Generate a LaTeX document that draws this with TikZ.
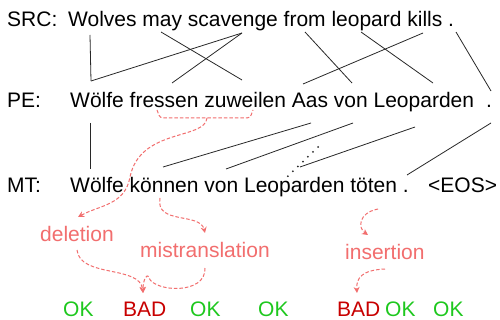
\documentclass[tikz,border=0pt]{standalone}
\usepackage{fontspec}
\setmainfont{Liberation Sans}
\usetikzlibrary{arrows.meta}
\definecolor{linkgray}{RGB}{40,40,40}
\definecolor{errpink}{RGB}{242,110,110}
\definecolor{okgreen}{RGB}{30,200,30}
\definecolor{badred}{RGB}{200,0,0}

\begin{document}
\begin{tikzpicture}[x=1pt,y=-1pt,
  word/.style={anchor=base west, inner sep=0pt, font=\fontsize{21}{25}\selectfont},
  errlabel/.style={word, text=errpink},
  oktag/.style={word, text=okgreen},
  badtag/.style={word, text=badred},
  align/.style={draw=linkgray, line width=0.8pt},
  gapline/.style={draw=linkgray, line width=2pt, line cap=round, dash pattern=on 0pt off 7pt},
  errdash/.style={draw=errpink, line width=1pt, dash pattern=on 3.5pt off 2pt},
  errflow/.style={errdash, -{Stealth[length=6pt,width=6pt]}},
]
\useasboundingbox (0,0) rectangle (500,320);
\fill[white] (0,0) rectangle (500,320);

% sentences
\node[word] (src-lbl) at (7,27) {SRC:};
\node[word] (src) at (68,27) {Wolves may scavenge from leopard kills .};
\node[word] (pe-lbl) at (7,108) {PE:};
\node[word] (pe) at (70,108) {Wölfe fressen zuweilen Aas von Leoparden};
\node[word] (pe-dot) at (486,108) {.};
\node[word] (mt-lbl) at (7,193) {MT:};
\node[word] (mt) at (70,193) {Wölfe können von Leoparden töten .};
\node[word] (eos) at (428,193) {<EOS>};

% error labels
\node[errlabel] (del) at (40,241) {deletion};
\node[errlabel] (mis) at (140,258) {mistranslation};
\node[errlabel] (ins) at (345,259) {insertion};

% word tags
\node[oktag]  (t1) at (63,316)  {OK};
\node[badtag] (t2) at (123,316) {BAD};
\node[oktag]  (t3) at (190,316) {OK};
\node[oktag]  (t4) at (258,316) {OK};
\node[badtag] (t5) at (337,316) {BAD};
\node[oktag]  (t6) at (385,316) {OK};
\node[oktag]  (t7) at (433,316) {OK};

% alignment end points: source words
\coordinate (s-wolves) at (90,35);
\coordinate (s-may)    at (161,32);
\coordinate (s-scav)   at (242,33);
\coordinate (s-from)   at (305,32);
\coordinate (s-leop)   at (361,32);
\coordinate (s-kills)  at (423,33);
\coordinate (s-dot)    at (456,32);
% post-edit words, top side
\coordinate (p-wolfe) at (91,81);
\coordinate (p-fress) at (172,83);
\coordinate (p-zuw)   at (242,80);
\coordinate (p-aas)   at (303,84);
\coordinate (p-von)   at (352,83);
\coordinate (p-leop)  at (433,83);
\coordinate (p-dot)   at (491,91);
% post-edit words, bottom side
\coordinate (pb-wolfe) at (90,123);
\coordinate (pb-von)   at (311,123);
\coordinate (pb-leop)  at (353,123);
\coordinate (pb-leop2) at (415,127);
\coordinate (pb-dot)   at (491,123);
% machine translation words, top side
\coordinate (m-wolfe) at (90,169);
\coordinate (m-konn)  at (163,167);
\coordinate (m-von)   at (226,169);
\coordinate (m-leop)  at (300,167);
\coordinate (m-dot)   at (407,175);
\coordinate (gap-top) at (318,147);
\coordinate (gap-bot) at (286,178);

% SRC -- PE alignment
\draw[align] (s-wolves) -- (p-wolfe);
\draw[align] (s-scav) -- (p-wolfe);
\draw[align] (s-may) -- (p-zuw);
\draw[align] (s-scav) -- (p-fress);
\draw[align] (s-from) -- (p-von);
\draw[align] (s-leop) -- (p-leop);
\draw[align] (s-kills) -- (p-aas);
\draw[align] (s-dot) -- (p-dot);

% PE -- MT alignment
\draw[align] (pb-wolfe) -- (m-wolfe);
\draw[align] (pb-von) -- (m-konn);
\draw[align] (pb-leop) -- (m-von);
\draw[align] (pb-leop2) -- (m-leop);
\draw[align] (pb-dot) -- (m-dot);
\draw[gapline] (gap-top) -- (gap-bot);

% error annotations
\coordinate (br-l) at (157,110);
\coordinate (br-r) at (253,110);
\coordinate (br-m) at (207,118);
\coordinate (del-in) at (78,217);
\draw[errdash, rounded corners=3pt] (br-l) -- (160,118) -- (250,118) -- (br-r);
\draw[errflow] (br-m) .. controls (205,140) and (140,128) .. (130,177)
                      .. controls (125,205) and (100,205) .. (del-in);

\coordinate (mt-konn) at (160,198);
\coordinate (mis-in) at (205,233);
\draw[errflow] (mt-konn) .. controls (155,225) and (200,212) .. (mis-in);

\coordinate (del-out) at (77,250);
\coordinate (mis-out) at (205,268);
\coordinate (bad1) at (143,293);
\draw[errflow] (del-out) .. controls (80,278) and (140,265) .. (bad1);
\draw[errflow] (mis-out) .. controls (206,295) and (155,292) .. (149,278)
                         .. controls (147,272) and (143,280) .. (bad1);

\coordinate (mt-dot) at (378,209);
\coordinate (ins-in) at (368,235);
\draw[errflow] (mt-dot) .. controls (358,213) and (358,228) .. (ins-in);

\coordinate (ins-out) at (385,269);
\coordinate (bad2) at (357,293);
\draw[errflow] (ins-out) .. controls (362,270) and (356,278) .. (bad2);
\end{tikzpicture}
\end{document}
